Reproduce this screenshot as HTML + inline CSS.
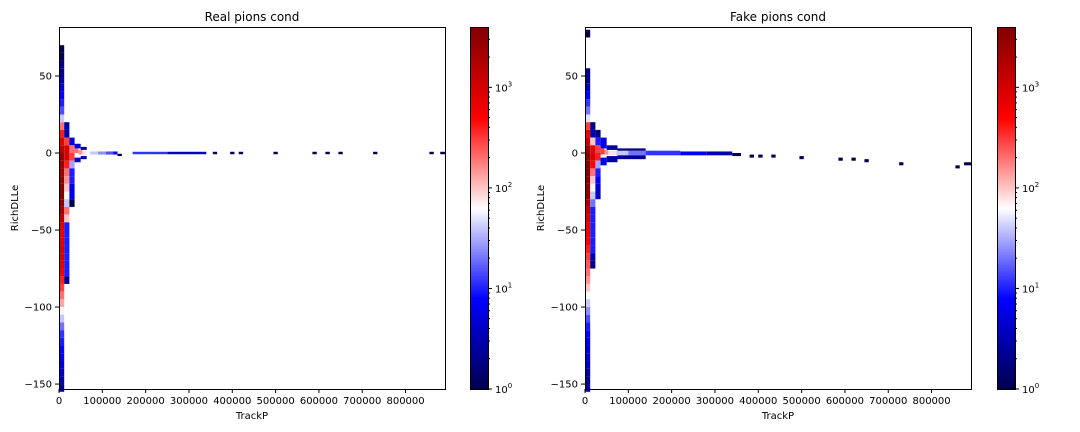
<!DOCTYPE html>
<html><head><meta charset="utf-8"><style>
body{margin:0;background:#fff;}
svg{display:block;font-family:"DejaVu Sans","Liberation Sans",sans-serif;}
</style></head><body>
<svg id="fig" width="1080" height="432" xmlns="http://www.w3.org/2000/svg"></svg>
<script>
// ---------- data (data units: TrackP range, RichDLLe range, count) ----------
const xTicks = [0,100000,200000,300000,400000,500000,600000,700000,800000];
const yTicks = [50,0,-50,-100,-150];
const cbTicks = [0,1,2,3];
const titles = ["Real pions cond","Fake pions cond"];
// main column profile bins: y from 80 down in 5-unit steps
const yBinTop = 80, yBinStep = 5, colWidth = 12000;
const realCol0 = [0,0,1,1,2,2,3,5,8,10,15,40,200,400,800,1500,3000,2500,2500,3000,3500,3500,3000,2500,1500,900,700,800,1000,1000,800,600,400,300,200,130,70,40,20,12,10,8,6,5,4,3,2];
const realCol1 = [0,0,0,0,0,0,0,0,0,0,0,0,3,3,300,1000,1000,400,200,150,100,60,40,200,100,10,10,10,10,10,10,10,2,0,0,0,0,0,0,0,0,0,0,0,0,0,0];
const realCol2 = [0,0,0,0,0,0,0,0,0,0,0,0,0,0,5,200,300,30,10,10,6,6,1,0,0,0,0,0,0,0,0,0,0,0,0,0,0,0,0,0,0,0,0,0,0,0,0];
const fakeCol0 = [1,0,0,0,0,2,2,4,8,12,20,50,300,600,1200,2500,3500,3500,3500,3500,3000,3000,2000,1200,900,700,600,500,400,300,250,200,150,100,60,40,25,15,10,8,6,5,5,4,3,2,2];
const fakeCol1 = [0,0,0,0,0,0,0,0,0,0,0,0,2,3,100,800,1000,500,200,100,60,40,20,10,10,10,10,10,10,3,2,0,0,0,0,0,0,0,0,0,0,0,0,0,0,0,0];
const fakeCol2 = [0,0,0,0,0,0,0,0,0,0,0,0,0,2,10,300,400,30,10,8,5,4,0,0,0,0,0,0,0,0,0,0,0,0,0,0,0,0,0,0,0,0,0,0,0,0,0];
// spike cells along y≈0: [xStart, xEnd, yTop, yBottom, count]
const realSpike = [
 [36000,45000,3,0,200],[45000,54000,2,-1,150],[54000,63000,1.5,-1.5,80],[63000,72000,1.5,-1.5,60],
 [72000,90000,1,-1,40],[90000,108000,1,-1,25],[108000,125000,1,-1,15],[125000,135000,1,-1,8],
 [36000,50000,6,3,5],[36000,50000,-3,-6,5],[50000,64000,4,2,3],[50000,64000,-2,-4,3],[135000,145000,-0.5,-2,1],
 [150000,170000,0.8,-0.8,60],[170000,250000,0.8,-0.8,12],[250000,340000,0.8,-0.8,4],
 [355000,365000,0.8,-0.8,1],[395000,405000,0.8,-0.8,1],[415000,425000,0.8,-0.8,1],[495000,505000,0.8,-0.8,1],
 [585000,595000,0.8,-0.8,1],[615000,625000,0.8,-0.8,1],[645000,655000,0.8,-0.8,1],[725000,735000,0.8,-0.8,1],
 [855000,865000,0.8,-0.8,1],[880000,891000,0.8,-0.8,1]
];
const fakeSpike = [
 [36000,45000,3,-1,300],[45000,54000,2,-1,150],[54000,72000,1.5,-1.5,80],[72000,100000,1.5,-1.5,40],
 [100000,140000,1.5,-1.5,20],[140000,220000,1.5,-1.5,12],[220000,280000,1,-1.5,6],[280000,340000,1,-1.5,3],
 [36000,50000,10,3,6],[36000,50000,-3,-8,6],[50000,75000,5,2,3],[50000,75000,-2,-6,3],[75000,140000,3,1.5,2],[75000,140000,-1.5,-4,2],
 [340000,360000,0,-2,1],[380000,390000,-1,-3,1],[400000,410000,-1,-3,1],[430000,440000,-1,-3,1],
 [495000,505000,-2,-4,1],[585000,595000,-3,-5,1],[615000,625000,-3,-5,1],[645000,655000,-4,-6,1],
 [725000,735000,-6,-8,1],[855000,865000,-8,-10,1],[875000,891000,-6,-8,1]
];
const xMax = 891000, yMaxV = 81.8, yMinV = -153.2, cMax = 3.6;
// ---------- drawing ----------
const NS="http://www.w3.org/2000/svg", svg=document.getElementById('fig');
function mk(t,a,p){const e=document.createElementNS(NS,t);for(const k in a)e.setAttribute(k,a[k]);(p||svg).appendChild(e);return e;}
function seismic(v){
 const s=[[0,0,0,.3],[.25,0,0,1],[.5,1,1,1],[.75,1,0,0],[1,.5,0,0]];
 v=Math.max(0,Math.min(1,v));
 for(let i=0;i<4;i++){if(v<=s[i+1][0]){const f=(v-s[i][0])/(s[i+1][0]-s[i][0]);
  const c=[1,2,3].map(j=>Math.round(255*(s[i][j]+f*(s[i+1][j]-s[i][j]))));return `rgb(${c})`;}}
}
const panels=[
 {L:59,cb:470,cols:[realCol0,realCol1,realCol2],spike:realSpike},
 {L:585,cb:997,cols:[fakeCol0,fakeCol1,fakeCol2],spike:fakeSpike}];
const T=27,B=389,W=386;
panels.forEach((p,pi)=>{
 const g=mk('g',{});
 
 
 const X=v=>p.L+v/xMax*W, Y=v=>T+(yMaxV-v)/(yMaxV-yMinV)*(B-T);
 const col=c=>seismic(Math.log10(Math.max(c,1))/cMax);
 const cell=(x0,x1,y0,y1,c)=>{if(c<=0)return;const r=mk('rect',{x:X(x0),y:Y(y0),width:X(x1)-X(x0),height:Math.max(1.5,Y(y1)-Y(y0)),fill:col(c)},g);
  };
 p.cols.forEach((arr,ci)=>arr.forEach((c,i)=>cell(ci*colWidth,(ci+1)*colWidth,yBinTop-i*yBinStep,yBinTop-(i+1)*yBinStep,c)));
 p.spike.forEach(s=>cell(s[0],s[1],s[2],s[3],s[4]));
 const fr=mk('rect',{x:p.L+.5,y:T+.5,width:W,height:B-T,fill:'none',stroke:'#000','stroke-width':1});
 
 const tt=mk('text',{x:p.L+W/2,y:21,'text-anchor':'middle','font-size':12});tt.textContent=titles[pi];
 
 xTicks.forEach(v=>{const x=X(v);mk('line',{x1:x,x2:x,y1:B,y2:B+4,stroke:'#000'});
  const t=mk('text',{x:x,y:B+15,'text-anchor':'middle','font-size':10});t.textContent=v;
  });
 yTicks.forEach(v=>{const y=Y(v);mk('line',{x1:p.L-4,x2:p.L,y1:y,y2:y,stroke:'#000'});
  const t=mk('text',{x:p.L-7,y:y+3.5,'text-anchor':'end','font-size':10});t.textContent=v<0?'\u2212'+(-v):v;
  });
 const xl=mk('text',{x:p.L+W/2,y:419,'text-anchor':'middle','font-size':10});xl.textContent='TrackP';
 
 const yl=mk('text',{x:0,y:0,'text-anchor':'middle','font-size':10,transform:`translate(${p.L-41},${(T+B)/2}) rotate(-90)`});yl.textContent='RichDLLe';
 
 const cbg=mk('g',{});
 const n=180;for(let i=0;i<n;i++){const y0=B-(i+1)*(B-T)/n;mk('rect',{x:p.cb,y:y0,width:18,height:(B-T)/n+0.6,fill:seismic((i+.5)/n)},cbg);}
 mk('rect',{x:p.cb+.5,y:T+.5,width:18,height:B-T,fill:'none',stroke:'#000'},cbg);
 const CY=d=>B-d/cMax*(B-T);
 cbTicks.forEach(d=>{const y=CY(d);mk('line',{x1:p.cb+18,x2:p.cb+22,y1:y,y2:y,stroke:'#000'},cbg);
  const t=mk('text',{x:p.cb+25,y:y+4,'font-size':10},cbg);t.innerHTML='10<tspan dy="-5" font-size="7">'+d+'</tspan>';
  
  for(let m=2;m<10;m++){const dd=d+Math.log10(m);if(dd<=cMax){const yy=CY(dd);mk('line',{x1:p.cb+18,x2:p.cb+20,y1:yy,y2:yy,stroke:'#000'},cbg);}}});
});
</script>
</body></html>
